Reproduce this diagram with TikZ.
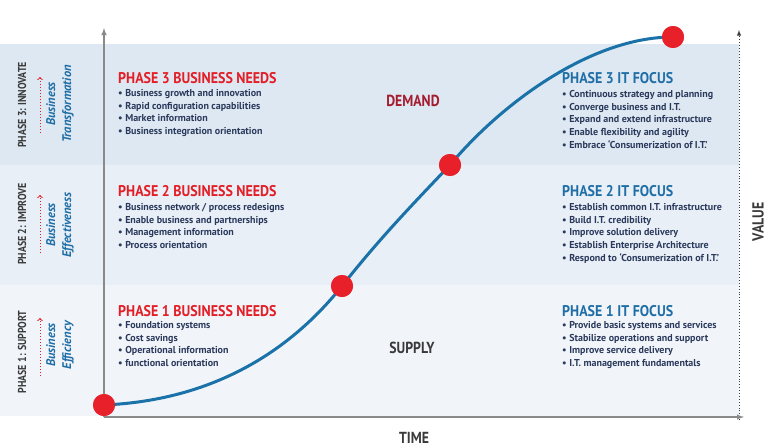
\documentclass[tikz,border=0pt]{standalone}
\usepackage{fontspec}
\setmainfont{PT Sans}
\newfontfamily\headfont[FakeStretch=0.9]{PT Sans}
\newfontfamily\bodyfont{PT Sans}
\newfontfamily\narrowfont[FakeStretch=0.86]{PT Sans}
\usepackage{xcolor}
\usepackage{tikz}
\usetikzlibrary{positioning, calc, arrows}

\definecolor{bandthree}{HTML}{DEE8F2}
\definecolor{bandtwo}{HTML}{E8EFF7}
\definecolor{bandone}{HTML}{F1F5FA}
\definecolor{needred}{HTML}{E31E26}
\definecolor{demandred}{HTML}{A51C30}
\definecolor{itblue}{HTML}{1F6EA6}
\definecolor{curveblue}{HTML}{1A72A8}
\definecolor{navytext}{HTML}{2B3A5C}
\definecolor{dotred}{HTML}{E8202A}
\definecolor{axisgray}{HTML}{8A8A8A}
\definecolor{labelgray}{HTML}{3A3A3A}

\begin{document}
\begin{tikzpicture}[x=1pt, y=-1pt]
\tikzstyle{needhead}=[anchor=west, inner sep=0, text=needred, font=\headfont\bfseries\fontsize{15.5}{16}\selectfont]
\tikzstyle{ithead}=[needhead, text=itblue]
\tikzstyle{bullets}=[anchor=north west, inner sep=0, align=left, text=navytext, font=\bodyfont\bfseries\fontsize{10}{12.8}\selectfont]
\tikzstyle{phaselabel}=[rotate=90, inner sep=0, text=labelgray, font=\narrowfont\bfseries\fontsize{11.5}{12}\selectfont]
\tikzstyle{goal}=[rotate=90, inner sep=0, align=center, text=itblue, font=\bodyfont\bfseries\itshape\fontsize{12.5}{16}\selectfont]
\tikzstyle{bigword}=[inner sep=0, font=\narrowfont\bfseries\fontsize{16}{17}\selectfont]
\tikzstyle{milestone}=[circle, fill=dotred, minimum size=22pt, inner sep=0]
\tikzstyle{axis}=[draw=axisgray, line width=1.4pt, -latex]
\tikzstyle{step arrow}=[draw=needred, dotted, line width=1pt, ->]

\useasboundingbox (0,0) rectangle (768,447);

\fill [bandthree] (0,44) rectangle (739,165);
\fill [bandtwo] (0,165) rectangle (739,285);
\fill [bandone] (0,285) rectangle (739,416);

\coordinate (origin) at (104,417);
\coordinate (ytop) at (104,28);
\coordinate (xend) at (744,417);
\coordinate (vbot) at (739,420);
\coordinate (vtop) at (739,30);

\draw [draw=labelgray, dotted, line width=0.9pt, -latex] (vbot) -- (vtop);
\draw [axis] (origin) -- (ytop);
\draw [axis] (origin) -- (xend);

\node (p0) at (104,405) [milestone] {};
\node (p1) at (342,286) [milestone] {};
\node (p2) at (450,165) [milestone] {};
\node (p3) at (673,37) [milestone] {};

\draw [curveblue, line width=3pt] (p0.center) .. controls (220,400) and (295,345) .. (p1.center)
  .. controls (380,238) and (412,205) .. (p2.center)
  .. controls (500,105) and (590,37) .. (p3.center);

\node (p0) at (104,405) [milestone] {};
\node (p1) at (342,286) [milestone] {};
\node (p2) at (450,165) [milestone] {};
\node (p3) at (673,37) [milestone] {};

\node (time) at (414,438) [bigword, text=labelgray] {TIME};
\node (value) at (758,222) [bigword, rotate=90, text=labelgray] {VALUE};
\node (demand) at (413,101) [bigword, text=demandred] {DEMAND};
\node (supply) at (412,348) [bigword, text=labelgray] {SUPPLY};

\node (ph3) at (22,105) [phaselabel] {PHASE 3: INNOVATE};
\node (ph2) at (22,224) [phaselabel] {PHASE 2: IMPROVE};
\node (ph1) at (22,352) [phaselabel] {PHASE 1: SUPPORT};

\coordinate (a3s) at (40,133);
\coordinate (a3e) at (40,77);
\coordinate (a2s) at (40,253);
\coordinate (a2e) at (40,195);
\coordinate (a1s) at (40,376);
\coordinate (a1e) at (40,318);
\draw [step arrow] (a3s) -- (a3e);
\draw [step arrow] (a2s) -- (a2e);
\draw [step arrow] (a1s) -- (a1e);

\node (g3) at (60,104) [goal] {Business\\Transformation};
\node (g2) at (60,225) [goal] {Business\\Effectiveness};
\node (g1) at (60,345) [goal] {Business\\Efficiency};

\node (need3) at (118,78) [needhead] {PHASE 3 BUSINESS NEEDS};
\node (list3) at (118,89) [bullets] {\textbullet\ Business growth and innovation\\
\textbullet\ Rapid configuration capabilities\\
\textbullet\ Market information\\
\textbullet\ Business integration orientation};

\node (need2) at (118,191) [needhead] {PHASE 2 BUSINESS NEEDS};
\node (list2) at (118,203) [bullets] {\textbullet\ Business network / process redesigns\\
\textbullet\ Enable business and partnerships\\
\textbullet\ Management information\\
\textbullet\ Process orientation};

\node (need1) at (118,311) [needhead] {PHASE 1 BUSINESS NEEDS};
\node (list1) at (118,321) [bullets] {\textbullet\ Foundation systems\\
\textbullet\ Cost savings\\
\textbullet\ Operational information\\
\textbullet\ functional orientation};

\node (it3) at (562,78) [ithead] {PHASE 3 IT FOCUS};
\node (itlist3) at (562,90) [bullets] {\textbullet\ Continuous strategy and planning\\
\textbullet\ Converge business and I.T.\\
\textbullet\ Expand and extend infrastructure\\
\textbullet\ Enable flexibility and agility\\
\textbullet\ Embrace ‘Consumerization of I.T.’};

\node (it2) at (562,191) [ithead] {PHASE 2 IT FOCUS};
\node (itlist2) at (562,203) [bullets] {\textbullet\ Establish common I.T. infrastructure\\
\textbullet\ Build I.T. credibility\\
\textbullet\ Improve solution delivery\\
\textbullet\ Establish Enterprise Architecture\\
\textbullet\ Respond to ‘Consumerization of I.T.’};

\node (it1) at (562,311) [ithead] {PHASE 1 IT FOCUS};
\node (itlist1) at (562,321) [bullets] {\textbullet\ Provide basic systems and services\\
\textbullet\ Stabilize operations and support\\
\textbullet\ Improve service delivery\\
\textbullet\ I.T. management fundamentals};
\end{tikzpicture}
\end{document}
